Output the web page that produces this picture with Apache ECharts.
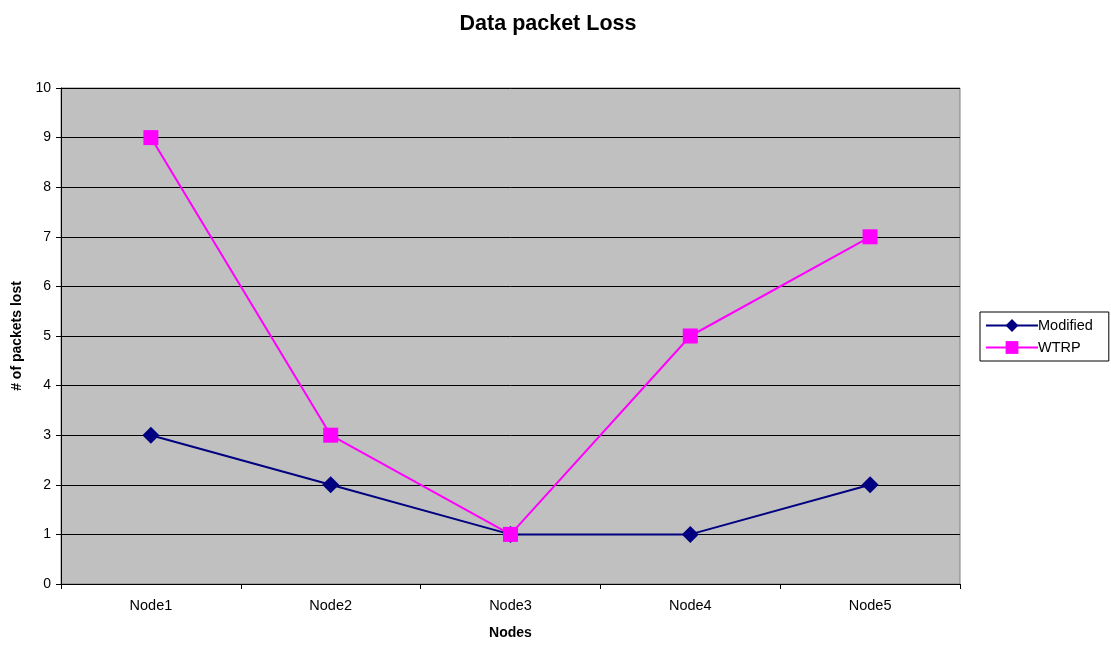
<!DOCTYPE html>
<html><head><meta charset="utf-8">
<script src="https://cdn.jsdelivr.net/npm/echarts@6/dist/echarts.min.js"></script>
<style>html,body{margin:0;padding:0;background:#fff}#c{width:1111px;height:646px}</style>
</head><body><div id="c"></div>
<script>
var categories = ['Node1','Node2','Node3','Node4','Node5'];
var modified = [3,2,1,1,2];
var wtrp = [9,3,1,5,7];
var chart = echarts.init(document.getElementById('c'));
var F = 'Liberation Sans, Arial, sans-serif';
chart.setOption({
  animation:false,
  backgroundColor:'#fff',
  title:{text:'Data packet Loss',left:543,top:8,textAlign:'center',textStyle:{fontFamily:F,fontSize:21.5,fontWeight:'bold',color:'#000'}},
  grid:{left:61,right:151,top:88,bottom:62,outerBoundsMode:'none',containLabel:false,show:true,backgroundColor:'#C0C0C0',borderColor:'#808080',borderWidth:1},
  legend:{orient:'vertical',left:980,top:312,padding:[6,16,6,5],itemGap:7,itemWidth:52,itemHeight:16,
    borderColor:'#000',borderWidth:1,backgroundColor:'#fff',
    textStyle:{fontFamily:F,fontSize:14.5,color:'#000',padding:[0,0,0,-5]},
    data:[{name:'Modified'},{name:'WTRP'}]},
  xAxis:{type:'category',data:categories,boundaryGap:true,
    name:'Nodes',nameLocation:'middle',nameGap:42,nameTextStyle:{fontFamily:F,fontSize:14,fontWeight:'bold',color:'#000'},
    axisLine:{lineStyle:{color:'#000',width:1}},
    axisTick:{show:true,inside:false,length:5,lineStyle:{color:'#000'}},
    axisLabel:{fontFamily:F,fontSize:14.5,color:'#000',margin:14}},
  yAxis:{type:'value',min:0,max:10,interval:1,
    name:'# of packets lost',nameLocation:'middle',nameGap:37,nameTextStyle:{fontFamily:F,fontSize:14,fontWeight:'bold',color:'#000'},
    axisLine:{show:true,lineStyle:{color:'#000',width:1}},
    axisTick:{show:true,inside:false,length:5,lineStyle:{color:'#000'}},
    axisLabel:{fontFamily:F,fontSize:14,color:'#000',margin:10},
    splitLine:{show:true,lineStyle:{color:'#000',width:1}}},
  series:[
    {name:'Modified',type:'line',data:modified,symbol:'diamond',symbolSize:17,
      itemStyle:{color:'#000080'},lineStyle:{color:'#000080',width:2}},
    {name:'WTRP',type:'line',data:wtrp,symbol:'rect',symbolSize:15,
      itemStyle:{color:'#FF00FF'},lineStyle:{color:'#FF00FF',width:2}}
  ]
});
</script></body></html>
